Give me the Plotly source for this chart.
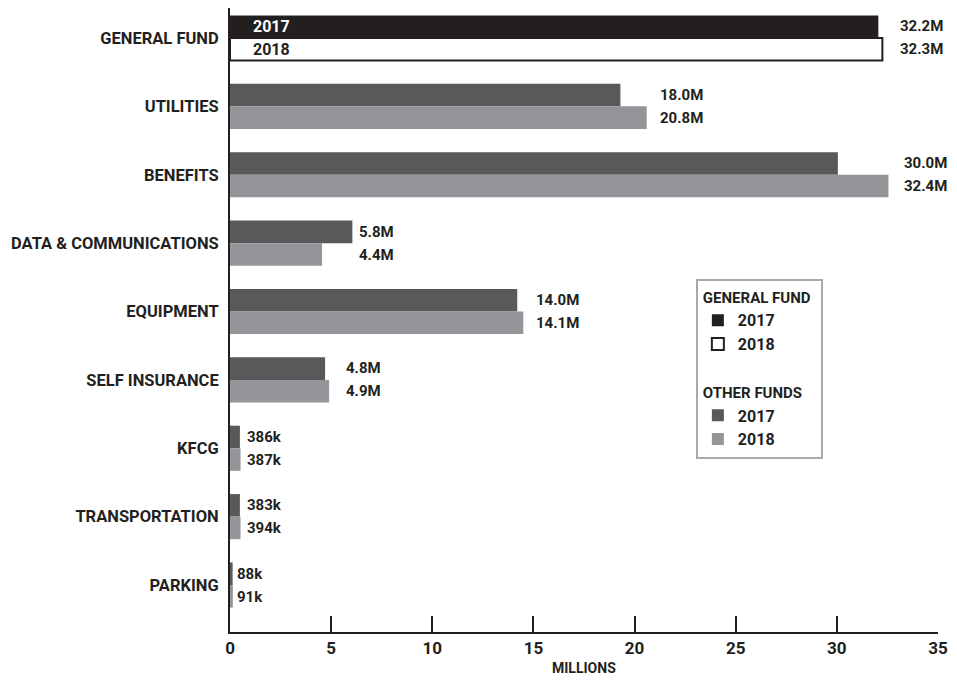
import plotly.graph_objects as go

categories = ["GENERAL FUND", "UTILITIES", "BENEFITS", "DATA & COMMUNICATIONS", "EQUIPMENT",
              "SELF INSURANCE", "KFCG", "TRANSPORTATION", "PARKING"]
# bar lengths in millions
values_2017 = [32.05, 19.3, 30.05, 6.05, 14.2, 4.7, 0.49, 0.49, 0.13]
values_2018 = [32.25, 20.6, 32.55, 4.55, 14.5, 4.9, 0.52, 0.52, 0.14]
labels_2017 = ["32.2M", "18.0M", "30.0M", "5.8M", "14.0M", "4.8M", "386k", "383k", "88k"]
labels_2018 = ["32.3M", "20.8M", "32.4M", "4.4M", "14.1M", "4.9M", "387k", "394k", "91k"]
x_ticks = [0, 5, 10, 15, 20, 25, 30, 35]

# style
FONT = "Roboto, Liberation Sans, sans-serif"
INK = "#231f20"
DARK = "#58595b"
LIGHT = "#939598"
label_offsets = [16, 11, 14, 5, 11, 15, 4, 4, 2]


def f(size, color=INK):
    return dict(family=FONT, size=size, color=color, weight="bold")


gf = categories[:1]
other = categories[1:]

fig = go.Figure()
fig.add_trace(go.Bar(y=gf, x=values_2017[:1], orientation="h", name="2017",
                     marker=dict(color=INK, line=dict(color=INK, width=0)),
                     offsetgroup="a", legendgroup="gf",
                     legendgrouptitle=dict(text="GENERAL FUND")))
fig.add_trace(go.Bar(y=gf, x=values_2018[:1], orientation="h", name="2018",
                     marker=dict(color="white", line=dict(color=INK, width=2)),
                     offsetgroup="b", legendgroup="gf"))
fig.add_trace(go.Bar(y=other, x=values_2017[1:], orientation="h", name="2017",
                     marker=dict(color=DARK, line=dict(width=0)),
                     offsetgroup="a", legendgroup="of",
                     legendgrouptitle=dict(text="OTHER FUNDS")))
fig.add_trace(go.Bar(y=other, x=values_2018[1:], orientation="h", name="2018",
                     marker=dict(color=LIGHT, line=dict(width=0)),
                     offsetgroup="b", legendgroup="of"))

annotations = []
for i, c in enumerate(categories):
    xm = max(values_2017[i], values_2018[i])
    for lab, ys in ((labels_2017[i], 11.5), (labels_2018[i], -11.5)):
        annotations.append(dict(x=xm, y=c, xref="x", yref="y", text=lab, showarrow=False,
                                xanchor="left", yanchor="middle", xshift=label_offsets[i],
                                yshift=ys, font=f(15)))
# year labels inside general fund bars
annotations.append(dict(x=0, y=categories[0], xref="x", yref="y", text="2017", showarrow=False,
                        xanchor="left", yanchor="middle", xshift=21, yshift=11.5,
                        font=f(16, "white")))
annotations.append(dict(x=0, y=categories[0], xref="x", yref="y", text="2018", showarrow=False,
                        xanchor="left", yanchor="middle", xshift=21, yshift=-11.5,
                        font=f(16)))
# axis title
annotations.append(dict(x=0.5, y=0, xref="paper", yref="paper", text="MILLIONS", showarrow=False,
                        xanchor="center", yanchor="middle", yshift=-36, font=f(14)))

fig.update_layout(
    width=941, height=667,
    margin=dict(l=222, r=11, t=0, b=43, autoexpand=False),
    paper_bgcolor="white", plot_bgcolor="white",
    barmode="group", bargap=0.34, bargroupgap=0,
    font=dict(family=FONT, color=INK),
    annotations=annotations,
    legend=dict(x=0.658, y=0.566, xanchor="left", yanchor="top",
                bordercolor="#a7a9ac", borderwidth=2, bgcolor="white",
                font=f(16), grouptitlefont=f(15),
                traceorder="grouped", tracegroupgap=25),
    showlegend=True,
)
fig.update_xaxes(range=[0, 35], tickvals=x_ticks, ticks="inside", ticklen=16, tickwidth=2,
                 tickcolor=INK, showline=True, linewidth=2, linecolor=INK, showgrid=False,
                 zeroline=False, tickfont=f(17), automargin=False)
fig.update_yaxes(type="category", categoryorder="array", categoryarray=categories,
                 range=[8.687, -0.4386], showline=True, linewidth=2, linecolor=INK,
                 ticks="", showgrid=False, zeroline=False, ticklabelstandoff=6,
                 automargin=False, tickfont=f(16.5))

fig.write_html("out.html")
